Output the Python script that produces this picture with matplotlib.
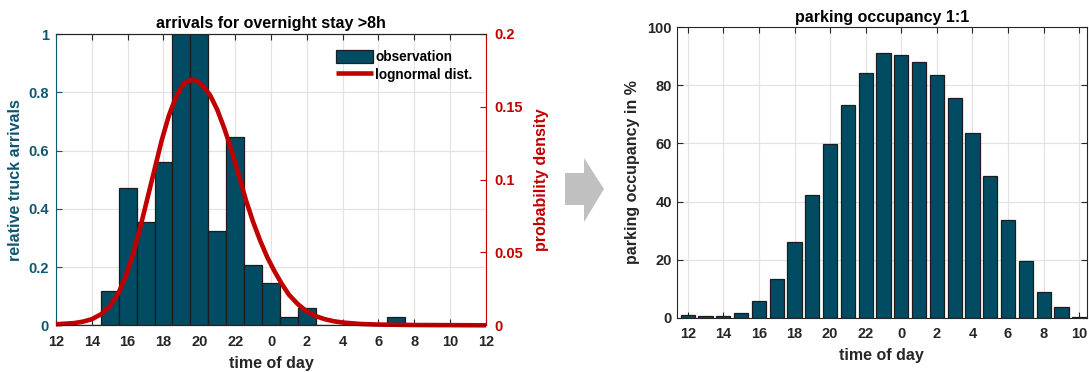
import numpy as np
import matplotlib
matplotlib.use("Agg")
import matplotlib.pyplot as plt
from matplotlib.patches import Polygon

plt.rcParams["font.family"] = ["Liberation Sans", "DejaVu Sans"]
plt.rcParams["font.weight"] = "bold"
plt.rcParams["axes.labelweight"] = "bold"
plt.rcParams["axes.titleweight"] = "bold"

# ── data: arrivals (left) ──
arr_hours = [13, 14, 15, 16, 17, 18, 19, 20, 21, 22, 23, 24, 25, 26,
             27, 28, 29, 30, 31, 32, 33, 34, 35]
arr_rel = [0, 0, 0.117, 0.470, 0.354, 0.559, 1.0, 1.0, 0.324, 0.648, 0.206,
           0.146, 0.030, 0.059, 0, 0, 0, 0, 0.030, 0, 0, 0, 0]

# lognormal fit
pdf_hours = [12.0, 13.0, 13.5, 14.0, 14.5, 15.0, 15.5, 15.9, 16.3, 16.7,
             17.1, 17.5, 17.9, 18.3, 18.7, 19.1, 19.4, 19.65, 19.9, 20.2,
             20.6, 21.0, 21.4, 21.8, 22.2, 22.6, 23.0, 23.4, 23.8, 24.2,
             24.6, 25.0, 25.5, 26.0, 26.5, 27.0, 27.5, 28.0, 29.0, 30.0,
             32.0, 36.0]
pdf_vals = [0.0007, 0.0015, 0.0025, 0.0042, 0.0075, 0.0130, 0.0225, 0.034,
            0.049, 0.067, 0.087, 0.107, 0.127, 0.144, 0.157, 0.1655, 0.1680,
            0.1685, 0.1675, 0.1645, 0.158, 0.148, 0.135, 0.120, 0.103, 0.086,
            0.071, 0.058, 0.0465, 0.037, 0.0285, 0.021, 0.0145, 0.0095,
            0.0063, 0.0042, 0.0028, 0.0019, 0.0009, 0.0005, 0.0002, 0.0]

# ── data: parking occupancy (right) ──
occ_hours = list(range(12, 35))
occ_pct = [1.1, 0.6, 0.6, 1.7, 5.6, 13.4, 26.0, 42.4, 59.7, 73.4, 84.1, 91.1,
           90.3, 88.1, 83.6, 75.6, 63.5, 48.8, 33.8, 19.5, 8.9, 3.7, 0.1]

x_ticks = list(range(12, 37, 2))
x_labels = [str(h % 24) for h in x_ticks]

BAR = "#024c63"
EDGE = "#1c1c1c"
RED = "#c00000"
TEAL = "#0f5670"
DARK = "#262626"
GRID = "#e0e4e7"
FS_TICK = 10.5
FS_LAB = 11.5

W, H = 1089, 372
fig = plt.figure(figsize=(W / 100, H / 100), dpi=100)

# ── left: arrivals histogram + lognormal ──
ax1 = fig.add_axes([56 / W, 1 - 325.3 / H, 430 / W, 291.3 / H])
ax1.bar(arr_hours, arr_rel, width=1.0, color=BAR, edgecolor=EDGE,
        linewidth=0.9, label="observation")
ax1.set_xlim(12, 36)
ax1.set_ylim(0, 1)
ax1.set_xticks(x_ticks)
ax1.set_xticklabels(x_labels)
ax1.set_yticks([0, 0.2, 0.4, 0.6, 0.8, 1])
ax1.set_yticklabels(["0", "0.2", "0.4", "0.6", "0.8", "1"])
ax1.set_axisbelow(True)
ax1.grid(True, color=GRID, lw=0.9)
ax1.tick_params(axis="x", direction="in", top=True, colors=DARK,
                labelsize=FS_TICK, length=4, pad=7)
ax1.tick_params(axis="y", direction="in", colors=TEAL, labelsize=FS_TICK,
                length=4, pad=5)
ax1.set_ylabel("relative truck arrivals", color=TEAL, fontsize=FS_LAB,
               labelpad=4)
ax1.set_xlabel("time of day", color=DARK, fontsize=FS_LAB, labelpad=5)
ax1.set_title("arrivals for overnight stay >8h", fontsize=FS_LAB, pad=4)
ax1.spines["left"].set_color(TEAL)
ax1.spines["right"].set_visible(False)
for s in ("top", "bottom"):
    ax1.spines[s].set_color(DARK)

ax2 = ax1.twinx()
ax2.plot(pdf_hours, pdf_vals, color=RED, lw=3.3, clip_on=False,
         solid_capstyle="butt", solid_joinstyle="round",
         label="lognormal dist.")
ax2.set_ylim(0, 0.2)
ax2.set_yticks([0, 0.05, 0.1, 0.15, 0.2])
ax2.set_yticklabels(["0", "0.05", "0.1", "0.15", "0.2"])
ax2.tick_params(axis="y", direction="in", colors=RED, labelsize=FS_TICK,
                length=4, pad=6)
ax2.set_ylabel("probability density", color=RED, fontsize=FS_LAB,
               labelpad=8)
ax2.spines["right"].set_color(RED)
ax2.spines["left"].set_visible(False)
for s in ("top", "bottom"):
    ax2.spines[s].set_color(DARK)

h1, l1 = ax1.get_legend_handles_labels()
h2, l2 = ax2.get_legend_handles_labels()
ax2.legend(h1 + h2, l1 + l2, loc="upper left", bbox_to_anchor=(0.635, 0.97),
           frameon=False, fontsize=9.8, handlelength=2.75, handleheight=1.1,
           handletextpad=0.15, borderpad=0, labelspacing=0.3)

# ── gray arrow between the panels ──
arrow_px = [(565, 173), (584, 173), (584, 158), (604, 189), (584, 222),
            (584, 205), (565, 205)]
fig.patches.append(Polygon([(x / W, 1 - y / H) for x, y in arrow_px],
                           closed=True, transform=fig.transFigure,
                           facecolor="#c0c0c0", edgecolor="none"))

# ── right: parking occupancy ──
ax3 = fig.add_axes([676.7 / W, 1 - 317.7 / H, 410 / W, 290.4 / H])
ax3.bar(occ_hours, occ_pct, width=0.8, color=BAR, edgecolor=EDGE,
        linewidth=0.9)
ax3.set_xlim(11.38, 34.42)
ax3.set_ylim(0, 100)
ax3.set_xticks(x_ticks[:-1])
ax3.set_xticklabels(x_labels[:-1])
ax3.set_yticks(range(0, 101, 20))
ax3.set_axisbelow(True)
ax3.grid(True, color=GRID, lw=0.9)
ax3.tick_params(direction="in", top=True, right=True, colors=DARK,
                labelsize=FS_TICK, length=4)
ax3.tick_params(axis="x", pad=7)
for s in ax3.spines.values():
    s.set_color(DARK)
ax3.set_ylabel("parking occupancy in %", color=DARK, fontsize=FS_LAB,
               labelpad=5)
ax3.set_xlabel("time of day", color=DARK, fontsize=FS_LAB, labelpad=5)
ax3.set_title("parking occupancy 1:1", fontsize=FS_LAB, pad=4)

fig.savefig("out.png", dpi=100)
